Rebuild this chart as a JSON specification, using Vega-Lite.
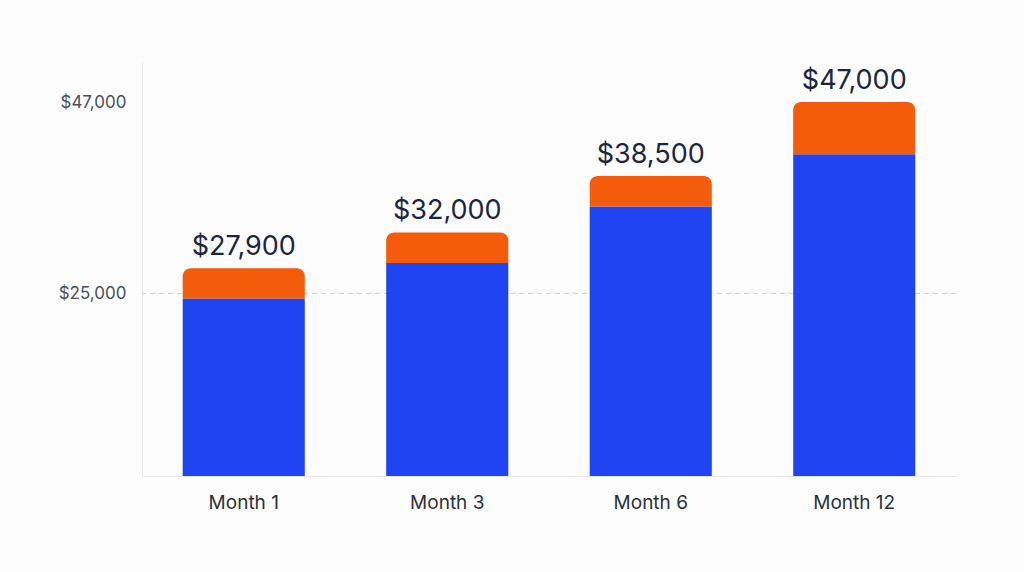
{
  "$schema": "https://vega.github.io/schema/vega-lite/v6.json",
  "autosize": "none",
  "width": 814,
  "height": 414,
  "padding": {"left": 142, "top": 62, "right": 68, "bottom": 96},
  "background": "#fdfdfd",
  "config": {
    "font": "Inter",
    "view": {"stroke": null}
  },
  "data": {
    "values": [
      {"month": "Month 1", "base": 24400, "total": 27900},
      {"month": "Month 3", "base": 28500, "total": 32000},
      {"month": "Month 6", "base": 35000, "total": 38500},
      {"month": "Month 12", "base": 41000, "total": 47000}
    ]
  },
  "encoding": {
    "x": {
      "field": "month",
      "type": "nominal",
      "sort": null,
      "scale": {"paddingInner": 0.4, "paddingOuter": 0.2},
      "axis": {
        "title": null,
        "labelAngle": 0,
        "labelFontSize": 19,
        "labelColor": "#2b303b",
        "labelPadding": 17,
        "ticks": false,
        "domainColor": "#e6e8eb",
        "domainWidth": 1
      }
    }
  },
  "layer": [
    {
      "data": {"values": [{"ref": 25000}]},
      "mark": {"type": "rule", "color": "#c9cdd3", "strokeDash": [5, 4], "strokeWidth": 1},
      "encoding": {
        "x": null,
        "y": {"field": "ref", "type": "quantitative", "scale": {"domain": [4000, 51600], "nice": false, "zero": false}}
      }
    },
    {
      "mark": {"type": "bar", "color": "#1f45f2", "clip": true},
      "encoding": {
        "y": {
          "field": "base",
          "type": "quantitative",
          "scale": {"domain": [4000, 51600], "nice": false, "zero": false},
          "axis": {
            "title": null,
            "values": [25000, 47000],
            "format": "$,.0f",
            "labelFontSize": 17,
            "labelColor": "#4a505c",
            "labelPadding": 16,
            "ticks": false,
            "grid": false,
            "domainColor": "#e6e8eb"
          }
        },
        "y2": {"datum": 0}
      }
    },
    {
      "mark": {"type": "bar", "color": "#f45b0a", "cornerRadiusTopLeft": 8, "cornerRadiusTopRight": 8},
      "encoding": {
        "y": {"field": "total", "type": "quantitative"},
        "y2": {"field": "base"}
      }
    },
    {
      "mark": {"type": "text", "baseline": "bottom", "dy": -7, "fontSize": 27, "color": "#1c2640"},
      "encoding": {
        "y": {"field": "total", "type": "quantitative"},
        "text": {"field": "total", "type": "quantitative", "format": "$,.0f"}
      }
    }
  ]
}
